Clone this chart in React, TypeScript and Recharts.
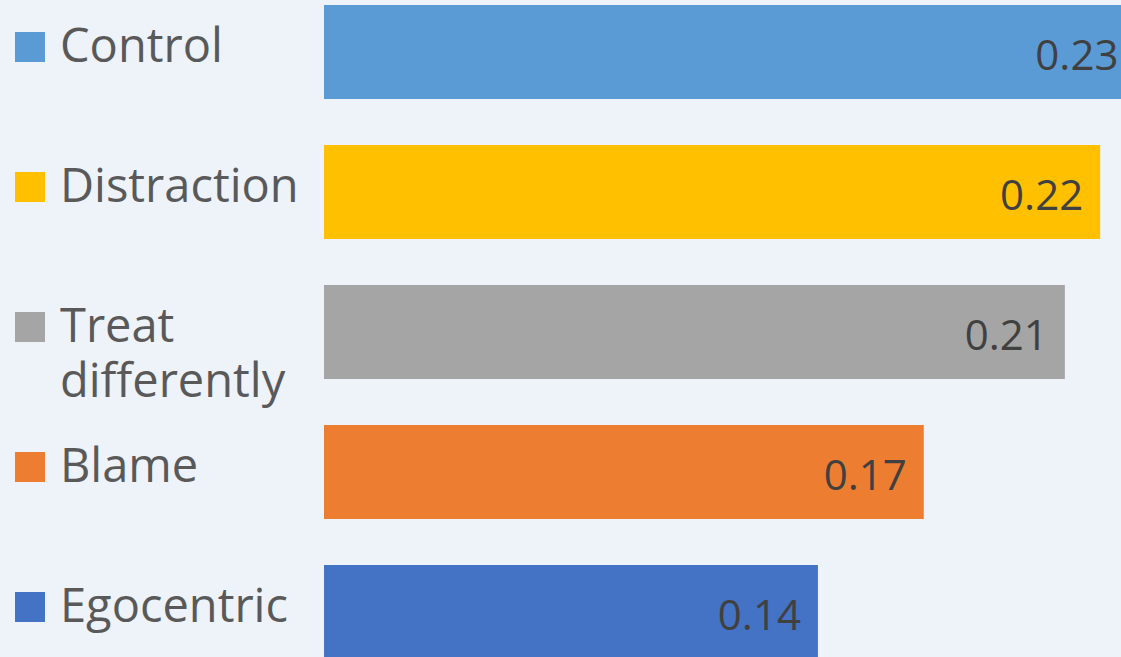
import { BarChart, Bar, XAxis, YAxis, Cell, LabelList } from 'recharts'

const categories = ['Control', 'Distraction', 'Treat differently', 'Blame', 'Egocentric']
const values = [0.23, 0.22, 0.21, 0.17, 0.14]
const colors = ['#5B9BD5', '#FFC000', '#A5A5A5', '#ED7D31', '#4472C4']

const data = categories.map((name, i) => ({ name, value: values[i], color: colors[i] }))

const FONT = '"Open Sans", sans-serif'

// legend-style category label: colored square + text (long names wrap)
function CategoryTick(props: any) {
  const { y, payload, index } = props
  const text: string = payload.value
  const lines = text.length > 12 ? text.split(' ') : [text]
  const baseline = y + 10
  return (
    <g>
      <rect x={15} y={baseline - 30} width={30} height={30} fill={colors[index]} />
      {lines.map((l, i) => (
        <text
          key={i}
          x={60}
          y={baseline + i * 55}
          fill="#595959"
          fontSize={47}
          fontFamily={FONT}
        >
          {l}
        </text>
      ))}
    </g>
  )
}

function ValueLabel(props: any) {
  const { x, y, width, height, value } = props
  return (
    <text
      x={x + width - 17}
      y={y + height / 2 + 1}
      textAnchor="end"
      dominantBaseline="central"
      fill="#404040"
      fontSize={42}
      fontFamily={FONT}
    >
      {value}
    </text>
  )
}

export default function App() {
  return (
    <div
      style={{
        position: 'absolute',
        left: 0,
        top: 0,
        width: 1121,
        height: 657,
        overflow: 'hidden',
        background: '#EEF2F9',
      }}
    >
      <div style={{ position: 'absolute', left: 0, top: -18 }}>
        <BarChart
          width={1206}
          height={700}
          data={data}
          layout="vertical"
          margin={{ top: 0, right: 0, bottom: 0, left: 0 }}
          barCategoryGap={23}
        >
          <XAxis type="number" domain={[0, 0.25]} hide />
          <YAxis
            type="category"
            dataKey="name"
            width={324}
            axisLine={false}
            tickLine={false}
            tick={<CategoryTick />}
            interval={0}
          />
          <Bar dataKey="value" isAnimationActive={false}>
            {data.map((d) => (
              <Cell key={d.name} fill={d.color} />
            ))}
            <LabelList dataKey="value" content={<ValueLabel />} />
          </Bar>
        </BarChart>
      </div>
    </div>
  )
}
